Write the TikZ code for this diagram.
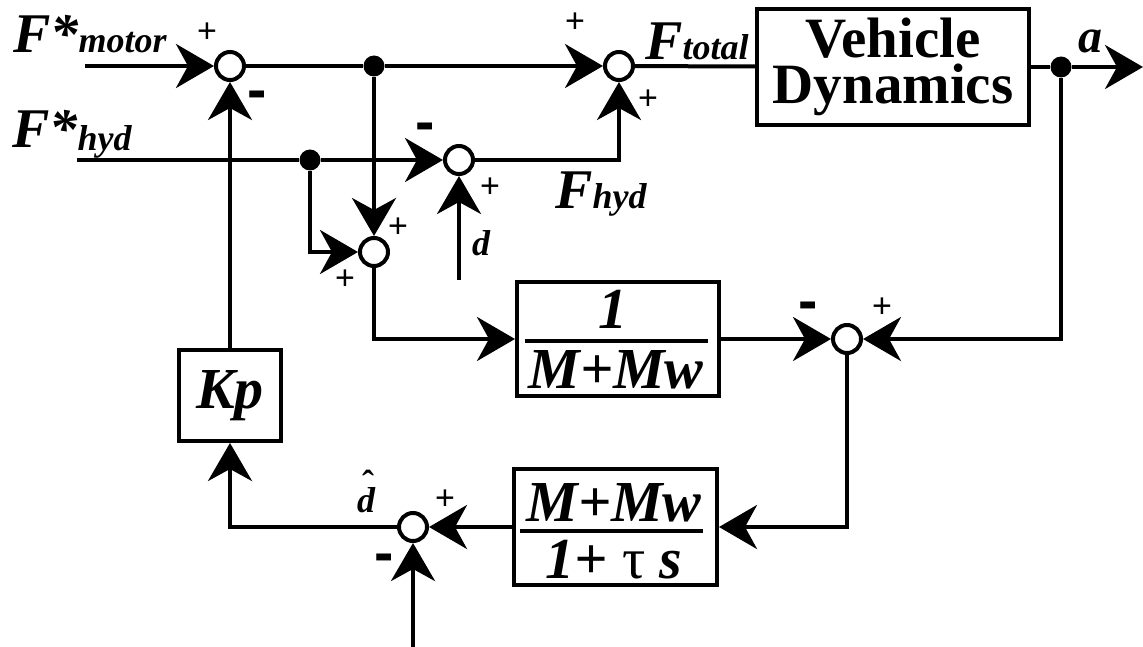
\documentclass[tikz,border=0pt]{standalone}
\usepackage{fontspec}
\setmainfont{Liberation Serif}
\newfontfamily\tmsfont{Liberation Serif}
\newfontfamily\sgnfont{Liberation Sans}
\usetikzlibrary{arrows.meta}
\newcommand\subtxt[1]{{\fontsize{36}{36}\selectfont #1}}
\begin{document}
\begin{tikzpicture}[x=1pt,y=-1pt,
 wire/.style={line width=4pt},
 arr/.style={wire,-{Stealth[length=38pt,width=44pt,inset=12pt]}},
 sumj/.style={circle,draw,line width=4pt,minimum size=28pt,inner sep=0pt,fill=white},
 dotj/.style={circle,fill=black,minimum size=21pt,inner sep=0pt},
 blk/.style={draw,line width=4pt,inner sep=0pt},
 plus/.style={font=\sgnfont\fontsize{34}{34}\selectfont,inner sep=0pt},
 minus/.style={font=\sgnfont\bfseries\fontsize{58}{58}\selectfont,inner sep=0pt},
 lbl/.style={font=\tmsfont\bfseries\itshape\fontsize{56}{56}\selectfont,inner sep=0pt},
 frc/.style={font=\tmsfont\bfseries\itshape\fontsize{58}{58}\selectfont,inner sep=0pt},
 small/.style={font=\tmsfont\bfseries\itshape\fontsize{36}{36}\selectfont,inner sep=0pt}
]
\useasboundingbox (0,0) rectangle (1143,647);

% blocks
\node[blk,minimum width=272pt,minimum height=116pt,align=center,
  font=\tmsfont\bfseries\fontsize{57}{46}\selectfont] (vd) at (893,67) {Vehicle\\Dynamics};
\node[blk,minimum width=202pt,minimum height=114pt] (b1) at (618,339) {};
\node[blk,minimum width=203pt,minimum height=116pt] (b2) at (615.5,527) {};
\node[blk,minimum width=102pt,minimum height=91pt,frc] (kp) at (230,395.5) {Kp};

% summing junctions
\node[sumj] (s1) at (230,66) {};
\node[sumj] (s2) at (619,66) {};
\node[sumj] (s3) at (459,160) {};
\node[sumj] (s4) at (847,339) {};
\node[sumj] (s5) at (374,252) {};
\node[sumj] (s6) at (413,527) {};

% branch dots
\node[dotj] (d1) at (374,66) {};
\node[dotj] (d2) at (1061,67) {};
\node[dotj] (d3) at (310,160) {};

% free ends
\coordinate (in1) at (85,66);
\coordinate (in2) at (77,160);
\coordinate (din) at (459,280);
\coordinate (dbot) at (413,647);
\coordinate (aout) at (1143,67);

% connectors
\draw[arr] (in1) -- (s1);
\draw[wire] (s1) -- (d1);
\draw[arr] (d1) -- (s2);
\draw[wire] (s2) -- (vd);
\draw[wire] (vd) -- (d2);
\draw[arr] (d2) -- (aout);
\draw[arr] (d2) |- (s4);
\draw[wire] (in2) -- (d3);
\draw[arr] (d3) -- (s3);
\draw[arr] (s3) -| (s2);
\draw[arr] (din) -- (s3);
\draw[arr] (d1) -- (s5);
\draw[arr] (d3) |- (s5);
\draw[arr] (s5) |- (b1);
\draw[arr] (b1) -- (s4);
\draw[arr] (s4) |- (b2);
\draw[arr] (b2) -- (s6);
\draw[arr] (dbot) -- (s6);
\draw[arr] (s6) -| (kp);
\draw[arr] (kp) -- (s1);

% fraction contents
\node[frc,anchor=base] (b1n) at (613,328) {1};
\draw[wire] (525,341) -- (708,341);
\node[frc,anchor=base] (b1d) at (616,388) {M+Mw};
\node[frc,anchor=base] (b2n) at (614,521) {M+Mw};
\draw[wire] (520,531) -- (703,531);
\node[frc,anchor=base] (b2d) at (614,578) {1+ {\mdseries\upshape τ} s};

% labels
\node[lbl,anchor=base west] (lm) at (13,53) {F*\subtxt{motor}};
\node[lbl,anchor=base west] (lh) at (12,148) {F*\raisebox{-3pt}{\subtxt{hyd}}};
\node[lbl,anchor=base west] (lt) at (645,60) {F\subtxt{total}};
\node[lbl,anchor=base west] (lfh) at (555,208) {F\subtxt{hyd}};
\node[lbl,anchor=base west,font=\tmsfont\bfseries\itshape\fontsize{48}{48}\selectfont] (la) at (1078,53) {a};
\node[small,anchor=base west] (ld) at (472,255) {d};
\node[small,anchor=base west] (ldh) at (357,512) {\rlap{\hspace{5pt}\raisebox{17pt}{\upshape ˆ}}d};

% signs
\node[plus] (p1) at (207,33) {+};
\node[minus] (m1) at (257,100) {-};
\node[plus] (p2) at (575,23) {+};
\node[plus] (p3) at (648,100) {+};
\node[minus] (m3) at (425,132) {-};
\node[plus] (p4) at (490,188) {+};
\node[plus] (p5) at (398,228) {+};
\node[plus] (p6) at (345,280) {+};
\node[minus] (m4) at (808,311) {-};
\node[plus] (p7) at (882,308) {+};
\node[plus] (p8) at (445,500) {+};
\node[minus] (m6) at (384,563) {-};
\end{tikzpicture}
\end{document}
